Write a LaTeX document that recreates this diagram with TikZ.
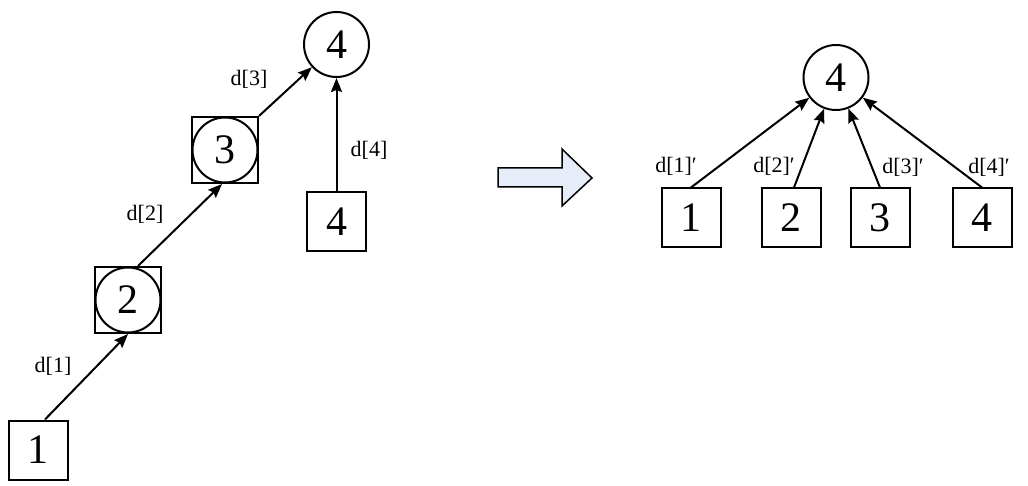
\documentclass[tikz,border=0pt]{standalone}
\usepackage{fontspec}
\setmainfont{Liberation Serif}
\usetikzlibrary{arrows.meta,calc}
\definecolor{arrowfill}{RGB}{231,237,248}
\begin{document}
\begin{tikzpicture}[x=1pt,y=-1pt,
  box/.style={draw,line width=2pt,minimum size=59pt,inner sep=0pt,font=\fontsize{42}{48}\selectfont},
  sqbox/.style={draw,line width=2pt,minimum size=66pt,inner sep=0pt},
  circ/.style={draw,circle,line width=2pt,minimum size=65pt,inner sep=0pt,font=\fontsize{42}{48}\selectfont},
  lbl/.style={font=\fontsize{22}{26}\selectfont,inner sep=0pt},
  arr/.style={line width=2pt,-{Stealth[length=14pt,width=11pt,inset=2pt]}},
  bigarrow/.style={draw,line width=1.5pt,fill=arrowfill,line join=miter}]
\useasboundingbox (0,0) rectangle (1028,486);
% left part
\node[box] (b1) at (38,450) {1};
\node[sqbox] (s2) at (128,300) {};
\node[circ] (c2) at (128,300) {2};
\node[sqbox] (s3) at (225,150) {};
\node[circ] (c3) at (225,150) {3};
\node[circ] (c4) at (336.5,44.5) {4};
\node[box] (b4) at (336.5,222) {4};
\draw[arr] ($(b1.north)+(7,0)$) -- (s2.south);
\draw[arr] ($(s2.north)+(10,0)$) -- ($(s3.south)+(-3,0)$);
\draw[arr] (s3.north east) -- (c4);
\draw[arr] (b4) -- (c4);
\node[lbl] (l1) at (53,366) {d[1]};
\node[lbl] (l2) at (145,214) {d[2]};
\node[lbl] (l3) at (249,79) {d[3]};
\node[lbl] (l4) at (369,150) {d[4]};
% block arrow
\draw[bigarrow] (498,168) -- (562,168) -- (562,149) -- (592,178) -- (562,206) -- (562,187) -- (498,187) -- cycle;
% right part
\node[circ] (rc) at (836,77.5) {4};
\node[box] (r1) at (691,218) {1};
\node[box] (r2) at (791,218) {2};
\node[box] (r3) at (880,218) {3};
\node[box] (r4) at (982,218) {4};
\draw[arr] (r1.north) -- (rc);
\draw[arr] ($(r2.north)+(3,0)$) -- (rc);
\draw[arr] (r3.north) -- (rc);
\draw[arr] (r4.north) -- (rc);
\node[lbl] (m1) at (676,166) {d[1]′};
\node[lbl] (m2) at (774,166) {d[2]′};
\node[lbl] (m3) at (903,167) {d[3]′};
\node[lbl] (m4) at (989,167) {d[4]′};
\end{tikzpicture}
\end{document}
